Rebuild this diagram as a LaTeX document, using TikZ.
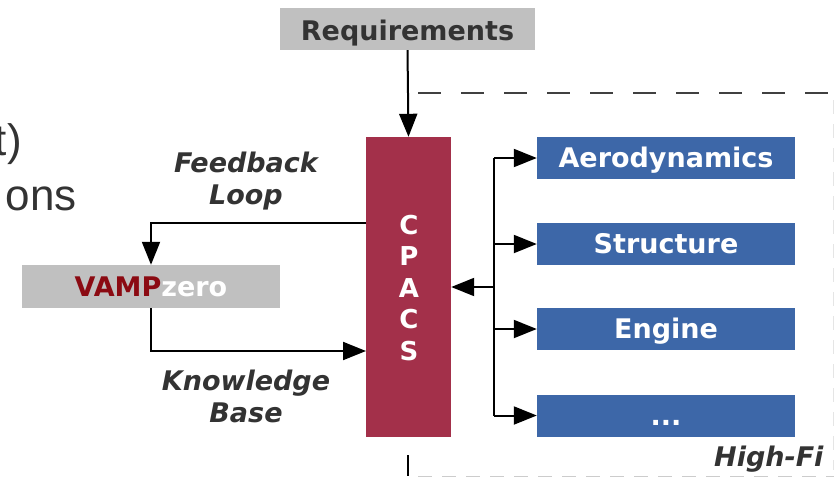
\documentclass[tikz,border=0pt]{standalone}
\usepackage{fontspec}
\setmainfont{DejaVu Sans}
\newfontfamily\slidefont{Liberation Sans}
\usetikzlibrary{arrows.meta}
\definecolor{boxgray}{HTML}{C0C0C0}
\definecolor{txtgray}{HTML}{333333}
\definecolor{cpacsred}{HTML}{A3304A}
\definecolor{hiblue}{HTML}{3D67A8}
\definecolor{vampred}{HTML}{8B0A12}
\begin{document}
\begin{tikzpicture}[x=1pt,y=-1pt,
  lbl/.style={font=\fontsize{27}{30}\selectfont\bfseries, text height=19.7pt, text depth=0pt},
  graybox/.style={fill=boxgray, draw=none, inner sep=0pt, lbl, text=txtgray},
  bluebox/.style={fill=hiblue, draw=none, inner sep=0pt, minimum width=258pt, minimum height=42pt, lbl, text=white},
  italbl/.style={font=\fontsize{27}{32}\selectfont\bfseries\itshape, text=txtgray, align=center},
  conn/.style={line width=2pt, black},
  arr/.style={conn, -{Triangle[length=23pt,width=18pt]}},
  dashline/.style={line width=1.5pt, color=black!75, dash pattern=on 23pt off 20pt}
]
\useasboundingbox (0,0) rectangle (834,477);
\clip (0,0) rectangle (834,477);
\fill[white] (0,0) rectangle (834,477);

% partial slide text on the left
\node[anchor=base east, inner sep=0pt, font=\slidefont\fontsize{44}{50}\selectfont, text=txtgray] (t1) at (22,155) {t)};
\node[anchor=base east, inner sep=0pt, font=\slidefont\fontsize{44}{50}\selectfont, text=txtgray] (t2) at (77,210) {ons};

% dashed high-fi frame
\coordinate (dtl) at (418,93);
\coordinate (dtr) at (834,93);
\coordinate (dbl) at (408,476);
\coordinate (dbr) at (834,476);
\draw[dashline] (dtl) -- (dtr);
\draw[line width=1pt, color=black!20, dash pattern=on 14pt off 10pt] ([xshift=10pt]dbl) -- (dbr);
\draw[line width=1pt, color=black!10, dash pattern=on 14pt off 10pt] (833,100) -- (833,470);
\draw[line width=1.3pt, black] (408,455) -- (dbl);

% nodes
\node[graybox, minimum width=255pt, minimum height=42pt, text height=23.7pt] (req) at (407.5,29) {Requirements};
\node[fill=cpacsred, draw=none, inner sep=0pt, minimum width=85pt, minimum height=300pt] (cpacs) at (408.5,287) {};
\node[text=white, align=center, font=\fontsize{26}{31.5}\selectfont\bfseries] (cpacstxt) at (409,288) {C\\P\\A\\C\\S};
\node[graybox, minimum width=258pt, minimum height=43pt] (vamp) at (151,286.5) {\textcolor{vampred}{VAMP}\textcolor{white}{zero}};

\node[bluebox] (aero) at (666,158) {Aerodynamics};
\node[bluebox] (struct) at (666,244) {Structure};
\node[bluebox] (engine) at (666,329) {Engine};
\node[bluebox] (more) at (666,415.5) {...};

\node[italbl] (fb) at (246,181) {Feedback\\Loop};
\node[italbl] (kb) at (246,396) {Knowledge\\Base};
\node[italbl, anchor=base east] (hifi) at (827,466) {High-Fi};

% connectors
\coordinate (fbout) at (366,223);
\coordinate (kbin) at (366,351);
\draw[arr] (req.south) -- (cpacs.north);
\draw[arr] (fbout) -| (vamp.north);
\draw[arr] (vamp.south) |- (kbin);

\coordinate (trunk) at (494,287);
\coordinate (ta) at (494,158);
\coordinate (tb) at (494,244);
\coordinate (tc) at (494,329);
\coordinate (td) at (494,415.5);
\draw[conn] (ta) -- (td);
\draw[arr] (trunk) -- (cpacs.east |- trunk);
\draw[arr] (ta) -- (aero.west);
\draw[arr] (tb) -- (struct.west);
\draw[arr] (tc) -- (engine.west);
\draw[arr] (td) -- (more.west);
\end{tikzpicture}
\end{document}
